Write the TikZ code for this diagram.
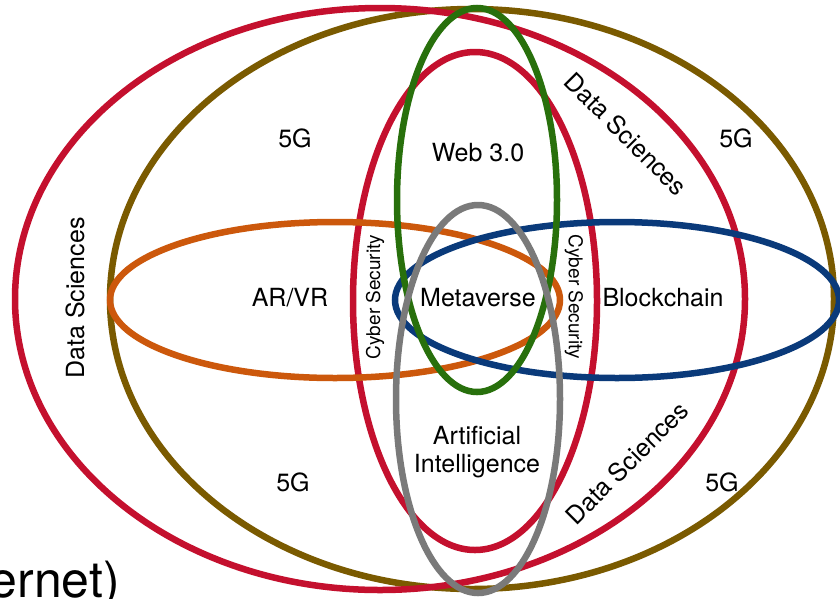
\documentclass[tikz,border=0pt]{standalone}
\usepackage{fontspec}
\setmainfont{TeX Gyre Heros}
\definecolor{dsred}{RGB}{196,16,46}
\definecolor{olive5g}{RGB}{122,90,0}
\definecolor{webgreen}{RGB}{40,112,12}
\definecolor{chainblue}{RGB}{10,58,122}
\definecolor{arorange}{RGB}{204,88,12}
\definecolor{aigray}{RGB}{122,122,122}
\tikzset{
  ring/.style={line width=6.5pt},
  lbl/.style={font=\fontsize{25}{28}\selectfont, text=black, inner sep=0pt, align=center},
  smalllbl/.style={font=\fontsize{19}{22}\selectfont, text=black, inner sep=0pt},
}
\begin{document}
\begin{tikzpicture}[x=1pt, y=-1pt]
  \useasboundingbox (0,0) rectangle (840,598);
  \fill[white] (0,0) rectangle (840,598);
  \clip (0,0) rectangle (840,598);

  % 5G and Data Sciences rings
  \draw[ring, olive5g] (472,299) ellipse [x radius=362pt, y radius=290pt];
  \draw[ring, dsred]   (380,299) ellipse [x radius=365pt, y radius=291pt];
  % Cyber Security ring
  \draw[ring, dsred]   (475,301) ellipse [x radius=122pt, y radius=249pt];
  % AR/VR and Blockchain
  \draw[ring, arorange]  (335,300) ellipse [x radius=225pt, y radius=78pt];
  \draw[ring, chainblue] (617,300) ellipse [x radius=222pt, y radius=78pt];
  % Web 3.0 and Artificial Intelligence
  \draw[ring, webgreen] (477,200) ellipse [x radius=80pt, y radius=192pt];
  \draw[ring, aigray]   (478,399) ellipse [x radius=82pt, y radius=194pt];

  % labels
  \node[lbl] (g1) at (295,138) {5G};
  \node[lbl] (g2) at (736,138) {5G};
  \node[lbl] (g3) at (293,482) {5G};
  \node[lbl] (g4) at (722,482) {5G};
  \node[lbl] (web) at (478,153) {Web 3.0};
  \node[lbl] (meta) at (478,298) {Metaverse};
  \node[lbl] (arvr) at (290,298) {AR/VR};
  \node[lbl] (chain) at (663,298) {Blockchain};
  \node[lbl] (ai) at (477,452) {Artificial\\Intelligence};
  \node[lbl, rotate=90] (ds1) at (75,298) {Data Sciences};
  \node[lbl, rotate=-45] (ds2) at (626,134) {Data Sciences};
  \node[lbl, rotate=45] (ds3) at (627,463) {Data Sciences};
  \node[smalllbl, rotate=90] (cs1) at (375,297) {Cyber Security};
  \node[smalllbl, rotate=-90] (cs2) at (574,297) {Cyber Security};

  % caption fragment at the lower edge
  \node[font=\fontsize{50}{56}\selectfont, inner sep=0pt, anchor=base east] (cap) at (120,597) {ernet)};
\end{tikzpicture}
\end{document}
